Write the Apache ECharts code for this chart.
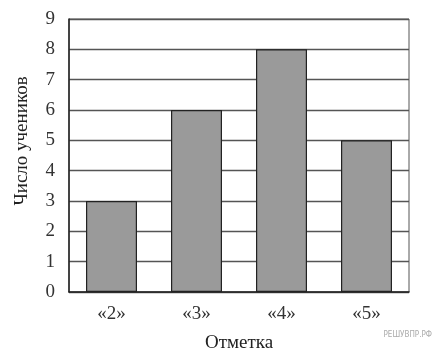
<!DOCTYPE html>
<html><head><meta charset="utf-8">
<script src="https://cdn.jsdelivr.net/npm/echarts@6/dist/echarts.min.js"></script>
<style>html,body{margin:0;padding:0;background:#fff}#c{width:432px;height:352px}</style>
</head><body><div id="c"></div>
<script>
var categories = ['«2»', '«3»', '«4»', '«5»'];
var values = [3, 6, 8, 5];
var yTicks = [0, 1, 2, 3, 4, 5, 6, 7, 8, 9];
var xTitle = 'Отметка';
var yTitle = 'Число учеников';
var watermark = 'РЕШУВПР.РФ';

var chart = echarts.init(document.getElementById('c'), null, {renderer: 'canvas'});
var serif = '"Liberation Serif", "DejaVu Serif", serif';
chart.setOption({
  animation: false,
  backgroundColor: '#fff',
  grid: {left: 69, top: 19, width: 340, height: 273, containLabel: false, outerBoundsMode: 'none',
         show: true, borderColor: '#555', borderWidth: 1, backgroundColor: 'transparent'},
  xAxis: {
    type: 'category', data: categories,
    name: xTitle, nameLocation: 'middle', nameGap: 42,
    nameTextStyle: {fontFamily: serif, fontSize: 19, color: '#222'},
    axisLine: {show: true, lineStyle: {color: '#222', width: 1.5}},
    axisTick: {show: false},
    axisLabel: {fontFamily: serif, fontSize: 19, color: '#333', margin: 13}
  },
  yAxis: {
    type: 'value', min: yTicks[0], max: yTicks[yTicks.length - 1], interval: 1,
    axisLine: {show: true, lineStyle: {color: '#222', width: 1.5}},
    axisTick: {show: false},
    axisLabel: {fontFamily: serif, fontSize: 19, color: '#333', margin: 14},
    splitLine: {show: true, lineStyle: {color: '#555', width: 1.3}}
  },
  series: [{
    type: 'bar', data: values, barCategoryGap: '40%',
    itemStyle: {color: '#9a9a9a', borderColor: '#222', borderWidth: 1.2}
  }],
  graphic: [{
    type: 'text', x: 22, y: 141, rotation: Math.PI / 2,
    style: {text: yTitle, font: '19px ' + serif, fill: '#222', align: 'center', verticalAlign: 'middle'}
  }, {
    type: 'text', right: 0, top: 331,
    style: {text: watermark, font: '8px "DejaVu Sans Condensed", "Liberation Sans Narrow", sans-serif', fill: '#aaa'}
  }]
});
</script></body></html>
